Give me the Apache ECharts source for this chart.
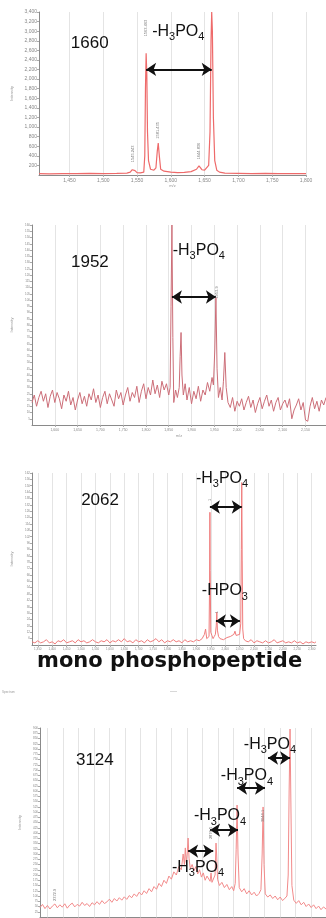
<!DOCTYPE html>
<html><head><meta charset="utf-8">
<script src="https://cdn.jsdelivr.net/npm/echarts@6/dist/echarts.min.js"></script>
<style>html,body{margin:0;padding:0;background:#fff}#c{width:326px;height:918px}</style>
</head><body><div id="c"></div><script>
// ---------- Panel 1 : 1660 ----------
const p1_mz = [1405,1420,1440,1460,1480,1500,1520,1535,1540,1543,1545,1547,1550,1555,1560,1561.5,1562.5,1563.5,1564.5,1565.5,1567,1570,1575,1578,1580,1581.4,1583,1585,1590,1600,1610,1620,1630,1638,1641.7,1644,1646,1650,1656,1658,1659.5,1660.5,1661.5,1663,1665,1668,1672,1680,1700,1720,1740,1760,1780,1800];
const p1_int = [30,25,30,28,35,30,35,40,60,110,125,90,50,45,60,400,1800,2540,2100,900,300,120,100,150,500,665,400,120,80,60,50,55,70,120,190,150,110,100,200,900,2800,3400,3000,1200,300,100,60,40,35,30,35,30,30,28];
const p1_xticks = [1450,1500,1550,1600,1650,1700,1750,1800];

// ---------- Panel 2 : 1952 ----------
const p2_mz = [1550,1555,1560,1565,1570,1575,1580,1585,1590,1595,1600,1605,1610,1615,1620,1625,1630,1635,1640,1645,1650,1655,1660,1665,1670,1675,1680,1685,1690,1695,1700,1705,1710,1715,1720,1725,1730,1735,1740,1745,1750,1755,1760,1765,1770,1775,1780,1785,1790,1795,1800,1805,1810,1815,1820,1825,1830,1835,1840,1845,1850,1853,1855,1857,1859,1861,1865,1869,1873,1875,1877,1879,1882,1886,1890,1895,1900,1905,1910,1915,1920,1925,1930,1935,1940,1945,1948,1951,1953.5,1956,1959,1963,1967,1970,1973,1976,1980,1985,1990,1995,2000,2005,2010,2015,2020,2025,2030,2035,2040,2045,2050,2055,2060,2065,2070,2075,2080,2085,2090,2095,2100,2105,2110,2115,2120,2125,2130,2135,2140,2145,2150,2155,2160,2165,2170,2175,2180,2185,2190,2195];
const p2_int = [18,24,15,22,27,19,25,14,23,28,18,26,21,13,24,19,27,16,22,12,20,26,17,23,15,25,20,29,18,24,14,22,27,17,25,20,15,28,21,26,16,24,30,19,26,22,31,18,27,33,21,30,24,36,25,32,22,35,28,33,24,30,95,160,70,18,28,22,30,55,74,40,24,33,20,30,17,27,21,31,19,28,24,34,27,38,32,60,102,45,22,30,20,35,58,30,18,14,22,11,19,15,21,12,18,23,14,20,10,17,22,13,19,24,15,20,11,18,22,12,17,20,14,21,5,12,16,21,12,18,4,3,15,22,13,19,11,20,16,22];
const p2_xticks = [1600,1650,1700,1750,1800,1850,1900,1950,2000,2050,2100,2150];

// ---------- Panel 3 : 2062 ----------
const p3_mz = [1330,1340,1350,1360,1370,1380,1390,1400,1410,1420,1430,1440,1450,1460,1470,1480,1490,1500,1510,1520,1530,1540,1550,1560,1570,1580,1590,1600,1610,1620,1630,1640,1650,1660,1670,1680,1690,1700,1710,1720,1730,1740,1750,1760,1770,1780,1790,1800,1810,1820,1830,1840,1850,1860,1870,1880,1890,1900,1910,1920,1928,1932,1936,1940,1944,1946,1947,1948,1950,1954,1958,1962,1966,1969,1971,1973,1977,1982,1988,1994,2000,2006,2012,2018,2024,2030,2034,2038,2044,2050,2054,2056,2057.5,2059,2061,2064,2070,2080,2090,2100,2110,2120,2130,2140,2150,2160,2170,2180,2190,2200,2210,2220,2230,2240,2250,2260,2270,2280,2290,2300,2310,2315];
const p3_int = [3,2,4,2,3,5,2,3,1,4,3,5,2,3,4,2,5,3,4,2,3,5,3,2,4,3,5,2,4,3,5,3,6,3,4,2,5,3,4,2,5,3,4,6,3,5,2,4,3,5,3,4,2,5,3,4,3,5,4,6,10,15,6,5,8,60,125,70,12,9,6,8,10,18,31,14,8,6,7,5,6,7,6,8,7,10,13,9,8,10,20,90,153,80,15,6,4,3,5,2,4,3,2,4,2,3,5,2,3,4,2,3,2,4,2,3,1,3,2,3,2,3];
const p3_xticks = [1350,1400,1450,1500,1550,1600,1650,1700,1750,1800,1850,1900,1950,2000,2050,2100,2150,2200,2250,2300];

// ---------- Panel 4 : 3124 ----------
const p4_mz = [2325,2333,2341,2349,2357,2365,2373,2381,2389,2397,2405,2413,2421,2429,2437,2445,2453,2461,2469,2477,2485,2493,2501,2509,2517,2525,2533,2541,2549,2557,2565,2573,2581,2589,2597,2605,2613,2621,2629,2637,2645,2653,2661,2669,2677,2685,2693,2701,2709,2717,2725,2733,2741,2749,2757,2765,2773,2781,2787,2791,2794,2797,2800,2803,2806,2810,2816,2822,2828,2834,2840,2846,2852,2858,2864,2870,2874,2877,2880,2885,2890,2893,2895,2898,2904,2912,2920,2928,2936,2944,2950,2955,2958,2961,2964,2968,2976,2984,2992,3000,3008,3016,3024,3032,3038,3042,3045,3048,3052,3060,3068,3076,3084,3092,3100,3108,3116,3122,3126,3129,3132,3135,3138,3144,3152,3160,3168,3176,3184,3192,3200,3208,3216,3224,3232,3240,3248];
const p4_int = [45,60,40,55,38,52,62,44,58,47,63,42,57,66,48,60,52,70,55,64,50,68,58,73,60,78,64,72,85,70,88,76,92,80,96,84,102,92,110,98,118,105,125,112,135,120,145,132,160,145,175,160,195,180,215,200,240,225,300,250,329,260,300,376,280,230,250,220,240,205,225,190,210,175,195,180,170,210,165,160,200,352,300,180,150,165,140,155,130,145,125,160,320,533,300,140,120,135,110,125,105,118,100,112,130,300,524,250,110,95,105,88,100,82,95,78,90,100,200,600,895,500,150,80,65,78,58,70,50,62,45,58,40,52,35,48,38];
const p4_xticks = [2350,2400,2450,2500,2550,2600,2650,2700,2750,2800,2850,2900,2950,3000,3050,3100,3150,3200];

// annotation texts
const H3PO4 = '{n|-H}{s|3}{n|PO}{s|4}';
const HPO3 = '{n|-HPO}{s|3}';

function zip(a,b){const n=Math.min(a.length,b.length);const r=[];for(let i=0;i<n;i++)r.push([a[i],b[i]]);return r;}
function comma(v){return String(Math.round(v)).replace(/\B(?=(\d{3})+(?!\d))/g, ',');}

const FONT = 'Liberation Sans';
const rich = {
  n:{fontSize:16,fontFamily:FONT,color:'#111',lineHeight:18,verticalAlign:'bottom',padding:[0,0,3,0]},
  s:{fontSize:11,fontFamily:FONT,color:'#111',lineHeight:11,verticalAlign:'bottom'},
  big:{fontSize:17,fontFamily:FONT,color:'#111'}
};
function txt(coord, text){
  return {coord:coord, symbolSize:0, label:{show:true, position:'inside', formatter:text, rich:rich}};
}
function tiny(coord, text, rot){
  return {coord:coord, symbolSize:0, label:{show:true, position:'inside', formatter:text, fontSize:4, color:'#777', fontFamily:FONT, rotate:rot||0}};
}
function arrow(x1,x2,y){ return [{coord:[x1,y]},{coord:[x2,y]}]; }

function xAx(g,min,max,ticks,fs,name,showLabels){
  return {gridIndex:g,type:'value',min:min,max:max,
    axisLine:{show:true,lineStyle:{color:'#8a8a8a',width:1}},
    axisTick:{show:true,customValues:ticks,length:2,lineStyle:{color:'#aaa'}},
    axisLabel:{show:showLabels,customValues:ticks,fontSize:fs,color:'#888',margin:3,formatter:comma,fontFamily:FONT},
    splitLine:{show:true,lineStyle:{color:'#e4e4e4',width:1}},
    name:name,nameLocation:'middle',nameGap:9,nameTextStyle:{fontSize:4,color:'#999'}};
}
function yAx(g,max,interval,fs,gap){
  return {gridIndex:g,type:'value',min:0,max:max,interval:interval,
    axisLine:{show:true,lineStyle:{color:'#8a8a8a',width:1}},
    axisTick:{show:true,length:2,lineStyle:{color:'#aaa'}},
    axisLabel:{show:true,fontSize:fs,color:'#888',margin:2,formatter:comma,showMinLabel:false,fontFamily:FONT},
    splitLine:{show:false},
    name:'Intensity',nameLocation:'middle',nameRotate:90,nameGap:gap,nameTextStyle:{fontSize:4,color:'#999'}};
}
const ml = (data)=>({silent:true,animation:false,symbol:['arrow','arrow'],symbolSize:10,
  lineStyle:{color:'#111',width:2,type:'solid'},label:{show:false},emphasis:{disabled:true},data:data});
const mp = (data)=>({silent:true,animation:false,data:data});

function line(i,data,color,w){
  return {type:'line',xAxisIndex:i,yAxisIndex:i,data:data,showSymbol:false,symbol:'none',
    lineStyle:{color:color,width:w||1},itemStyle:{color:color},animation:false,silent:true,clip:false};
}

const s1 = line(0,zip(p1_mz,p1_int),'#ee6a6a',1.2);
s1.markLine = ml([arrow(1563.5,1660.5,2203)]);
s1.markPoint = mp([
  txt([1480,2740],'{big|1660}'),
  txt([1611,2960],H3PO4),
  tiny([1563.4,3066],'1563.463',90),
  tiny([1580.5,930],'1581.435',90),
  tiny([1544,440],'1545.243',90),
  tiny([1642,500],'1644.836',90),
  tiny([1661,3590],'1661.96',0)
]);

const s2 = line(1,zip(p2_mz,p2_int),'#cc6e78',1);
s2.markLine = ml([arrow(1857,1953.5,102.4)]);
s2.markPoint = mp([
  txt([1677,130],'{big|1952}'),
  txt([1916,138],H3PO4),
  tiny([1862,164.5],'1855.87',0),
  tiny([1956,106],'1953.9',90)
]);

const s3 = line(2,zip(p3_mz,p3_int),'#f07c7c',1);
s3.markLine = ml([arrow(1947,2057.5,130),arrow(1968,2051,22.6)]);
s3.markPoint = mp([
  txt([1566,136.6],'{big|2062}'),
  txt([1989,154.5],H3PO4),
  txt([1999,49],HPO3),
  tiny([2072,167.6],'2061.97',0),
  tiny([1947,136.6],'1',90),
  tiny([1972,31],'1',90)
]);

const s4 = line(3,zip(p4_mz,p4_int),'#f28a8a',1);
s4.markLine = ml([arrow(3061,3132,757),arrow(2961,3051,614),arrow(2874,2964,414),arrow(2803,2884,314)]);
s4.markPoint = mp([
  txt([2502,748],'{big|3124}'),
  txt([3067,810],H3PO4),
  txt([2993,662],H3PO4),
  txt([2906,471],H3PO4),
  txt([2835,224],H3PO4),
  tiny([3168,911],'Manual peak list',0),
  tiny([3045,481],'3044.1',90),
  tiny([2877,400],'2876.5',90),
  tiny([2372,105],'2372.9',90)
]);

const chart = echarts.init(document.getElementById('c'), null, {renderer:'canvas'});
chart.setOption({
  backgroundColor:'#fff',
  animation:false,
  title:{text:'mono phosphopeptide',left:37,top:651,padding:0,
    textStyle:{fontSize:21,fontWeight:'bold',fontFamily:'DejaVu Sans',color:'#111'}},
  grid:[
    {left:39,top:12,width:267,height:163},
    {left:32,top:225,width:294,height:200},
    {left:32,top:473,width:284,height:172},
    {left:40,top:728,width:286,height:189}
  ],
  xAxis:[
    xAx(0,1405,1800,p1_xticks,5,'m/z',true),
    xAx(1,1550,2195,p2_xticks,3.5,'m/z',true),
    xAx(2,1330,2315,p3_xticks,3,'m/z',true),
    xAx(3,2325,3248,p4_xticks,3,'',false)
  ],
  yAxis:[
    yAx(0,3400,200,5,18),
    yAx(1,160,5,3,10),
    yAx(2,162,6,3,10),
    yAx(3,900,25,3,12)
  ],
  graphic:[
    {type:'text',left:2,top:691,style:{text:'Spectrum',fontSize:3,fill:'#999'}},
    {type:'text',left:170,top:690,style:{text:'-------',fontSize:3,fill:'#999'}}
  ],
  series:[s1,s2,s3,s4]
});
</script></body></html>
